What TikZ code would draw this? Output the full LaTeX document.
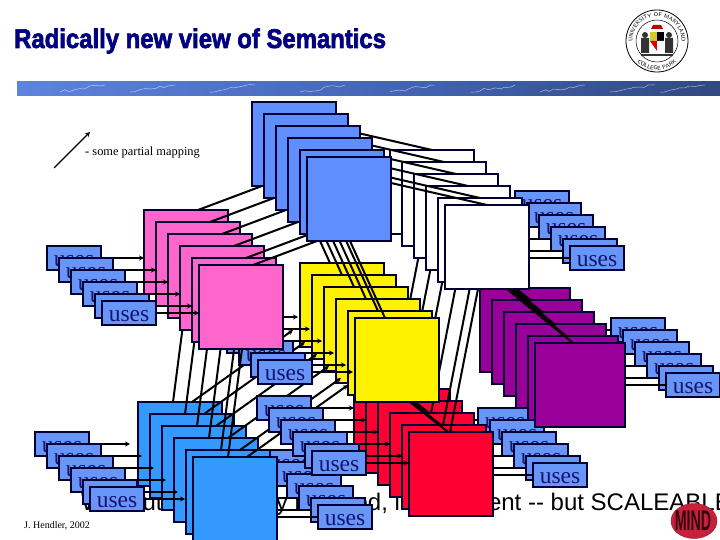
\documentclass[tikz,border=0pt]{standalone}
\usepackage{fontspec}
\setmainfont{Liberation Serif}
\newfontfamily\sansfont{Liberation Sans}
\newfontfamily\titlefont[BoldFeatures={FakeBold=2.5}]{Liberation Sans}
\usetikzlibrary{arrows.meta,calc,decorations.pathmorphing,decorations.text,shapes.geometric}
\definecolor{navyT}{HTML}{000080}
\definecolor{edgeN}{HTML}{000033}
\definecolor{topblue}{HTML}{5F8FFF}
\definecolor{usesblue}{HTML}{6896F8}
\definecolor{usesink}{HTML}{14146E}
\definecolor{pinkP}{HTML}{FF66CC}
\definecolor{purpleP}{HTML}{990099}
\definecolor{redR}{HTML}{FF0033}
\definecolor{lowblue}{HTML}{3399FF}
\definecolor{mindred}{HTML}{C8203C}
\pgfdeclarehorizontalshading{bannershade}{100bp}{
  color(0bp)=(topblue!85!white); color(50bp)=(topblue!72!black); color(82bp)=(topblue!45!black); color(100bp)=(navyT!30!black)}

\begin{document}
\begin{tikzpicture}[
  x=1pt, y=-1pt,
  bigbox/.style={rectangle, draw=edgeN, line width=2pt, minimum width=84pt, minimum height=84pt, inner sep=0pt, outer sep=0pt, anchor=north west},
  usesbox/.style={rectangle, draw=edgeN, line width=1.8pt, fill=usesblue, minimum width=54pt, minimum height=24pt, inner sep=0pt, outer sep=0pt, anchor=north west, text=usesink, text height=16pt, text depth=0pt, font=\fontsize{23.5}{23.5}\selectfont},
  lnk/.style={black, line width=2pt},
  arr/.style={black, line width=1.7pt, -{Stealth[length=5pt,width=5pt]}},
  crack/.style={white, opacity=0.6, line width=0.5pt, decorate, decoration={random steps, segment length=5pt, amplitude=1.5pt}}
]
\useasboundingbox (0,0) rectangle (720,540);
\clip (0,0) rectangle (720,540);

% title and banner
\node[anchor=west, inner sep=0pt, text=navyT, font=\titlefont\bfseries\fontsize{27}{27}\selectfont, xscale=0.885, transform shape] (title) at (14,41) {Radically new view of Semantics};
\begin{scope}
\clip (17,82) rectangle (720,96);
\shade[shading=bannershade] (17,82) rectangle (720,96);
\foreach \x in {60,130,210,300,390,470,540,610,660}
  \draw[crack] (\x,92) -- (\x+45,85);
\end{scope}

% legend
\coordinate (legA) at (54,168);
\coordinate (legB) at (90,132);
\draw[black, line width=1.2pt, -{Stealth[length=5pt,width=5pt]}] (legA) -- (legB);
\node[anchor=west, inner sep=0pt, font=\fontsize{12.4}{12.4}\selectfont] (legend) at (85,153) {{\bfseries -} some partial mapping};
\node[anchor=west, inner sep=0pt, font=\fontsize{10}{10}\selectfont] (credit) at (24,526) {J. Hendler, 2002};

% the sentence behind the boxes
\node[anchor=base west, inner sep=0pt, font=\sansfont\fontsize{24}{24}\selectfont] (line) at (81,510) {Without a hierarchy mapped, inconsistent -- but SCALEABLE};

% lower right uses (to red)
\foreach \o [count=\i] in {0,12,24,36,48,55}
  \node[usesbox] (ur\i) at (478+\o,408+\o) {uses};
% right uses (to purple)
\foreach \o [count=\i] in {0,12,24,36,48,55}
  \node[usesbox] (up\i) at (611+\o,318+\o) {uses};
% upper right uses (to white)
\foreach \o [count=\i] in {0,12,24,36,48,55}
  \node[usesbox] (uw\i) at (515+\o,191+\o) {uses};
% bottom uses (to low blue)
\foreach \o [count=\i] in {0,12,24,36,48,55}
  \node[usesbox] (ub\i) at (263+\o,450+\o) {uses};

% purple and red
\foreach \o [count=\i] in {0,12,24,36,48,55} {
  \draw[lnk] (up\i.west) -- ++(-45,0);
  \node[bigbox, fill=purpleP, minimum width=90pt] (pur\i) at (480+\o,288+\o) {};
}
\foreach \o [count=\i] in {0,12,24,36,48,55} {
  \draw[lnk] (ur\i.west) -- ++(-45,0);
  \node[bigbox, fill=redR] (red\i) at (354+\o,377+\o) {};
}

% corners of the stacks drawn later
\foreach \o [count=\i] in {0,12,24,36,48,55} {
  \coordinate (ww\i) at (390+\o,150+\o);
  \coordinate (yy\i) at (300+\o,263+\o);
  \coordinate (pp\i) at (144+\o,210+\o);
  \coordinate (tt\i) at (252+\o,102+\o);
}

% white to purple, white to red, yellow to red
\foreach \i in {1,...,6} {
  \draw[lnk] ($(ww\i)+(62,84)$) -- ($(pur\i.north west)+(38,0)$);
  \draw[lnk] ($(ww\i)+(33,84)$) -- ($(red\i.north west)+(41,0)$);
  \draw[lnk] ($(yy\i)+(55,84)$) -- ($(red\i.north west)+(39,0)$);
}

% white and yellow
\foreach \o [count=\i] in {0,12,24,36,48,55} {
  \draw[lnk] (uw\i.west) -- ++(-45,0);
  \node[bigbox, fill=white] (white\i) at (390+\o,150+\o) {};
}
\foreach \o [count=\i] in {0,12,24,36,48,55}
  \node[bigbox, fill=yellow] (yel\i) at (300+\o,263+\o) {};

% low blue
\foreach \o [count=\i] in {0,12,24,36,48,55} {
  \draw[lnk] (ub\i.west) -- ++(-45,0);
  \node[bigbox, fill=lowblue] (low\i) at (138+\o,402+\o) {};
}
\foreach \i in {1,...,6}
  \draw[arr, line width=2pt] ($(low\i.north west)+(54,0)$) -- ($(yel\i.north west)+(-7,67)$);

% left uses (to low blue)
\foreach \o [count=\i] in {0,12,24,36,48,55} {
  \node[usesbox] (ul\i) at (35+\o,432+\o) {uses};
  \draw[arr] (ul\i.east) -- ([xshift=-8pt]ul\i.east -| low\i.west);
}
% middle uses (to yellow)
\foreach \o [count=\i] in {0,12,24,36,48,55} {
  \node[usesbox] (uy\i) at (203+\o,305+\o) {uses};
  \draw[arr] (uy\i.east) -- ([xshift=-2pt]uy\i.east -| yel\i.west);
}
% centre uses (to red)
\foreach \o [count=\i] in {0,12,24,36,48,55} {
  \node[usesbox] (uc\i) at (257+\o,396+\o) {uses};
  \draw[arr] (uc\i.east) -- (uc\i.east -| red\i.west);
}

% low blue to pink, under the pink stack
\foreach \i in {1,...,6}
  \draw[lnk] ($(low\i.north west)+(35,0)$) -- ($(pp\i)+(43,84)$);

% pink
\foreach \o [count=\i] in {0,12,24,36,48,55}
  \node[bigbox, fill=pinkP] (pink\i) at (144+\o,210+\o) {};

% left upper uses (to pink)
\foreach \o [count=\i] in {0,12,24,36,48,55} {
  \node[usesbox] (ua\i) at (47+\o,246+\o) {uses};
  \draw[arr] (ua\i.east) -- (ua\i.east -| pink\i.west);
}

% top blue mappings, then the stack over them
\foreach \i in {1,...,6} {
  \draw[lnk] ($(tt\i)+(84,26)$) -- ($(white\i.north west)+(42,0)$);
  \draw[lnk] ($(tt\i)+(10,84)$) -- ($(pink\i.north west)+(54,0)$);
  \draw[lnk] ($(tt\i)+(43,84)$) -- ($(yel\i.north west)+(30,0)$);
}
\foreach \o [count=\i] in {0,12,24,36,48,55}
  \node[bigbox, fill=topblue] (top\i) at (252+\o,102+\o) {};

% seal
\begin{scope}[shift={(657,41)}, y=1pt]
\draw[black, line width=0.8pt] (0,0) circle (31);
\draw[black, line width=0.5pt] (0,0) circle (21);
\path[decorate, decoration={text along path, text align=center, text={|\sffamily\fontsize{5.6}{5.6}\selectfont|UNIVERSITY OF MARYLAND}}] (180:24.5) arc (180:0:24.5);
\path[decorate, decoration={text along path, text align=center, text={|\sffamily\fontsize{5.6}{5.6}\selectfont|COLLEGE PARK}}] (215:29) arc (215:325:29);
\fill[black!80] (-12,6) circle (3) (12,6) circle (3);
\fill[black!80] (-16,-12) rectangle (-8,3) (8,-12) rectangle (16,3);
\fill[black!80] (-16,-15) rectangle (16,-13);
\fill[red!75!black] (-6,12) -- (6,12) -- (4,16) -- (-4,16) -- cycle;
\fill[yellow!80!black] (-7,9) rectangle (0,0);
\fill[black] (0,9) rectangle (7,0);
\fill[red!85!black] (-7,0) -- (0,0) -- (0,-10) -- cycle;
\fill[white] (0,0) -- (7,0) -- (0,-10) -- cycle;
\end{scope}

% MIND
\node[ellipse, fill=mindred, draw=mindred!70!black, minimum width=46pt, minimum height=35pt, inner sep=0pt] (mindoval) at (694,521) {};
\node[inner sep=0pt, text=black!75!mindred, font=\sansfont\bfseries\fontsize{15}{15}\selectfont, yscale=1.9, xscale=0.95, transform shape] (mind) at (693,521) {MIND};
\end{tikzpicture}
\end{document}
